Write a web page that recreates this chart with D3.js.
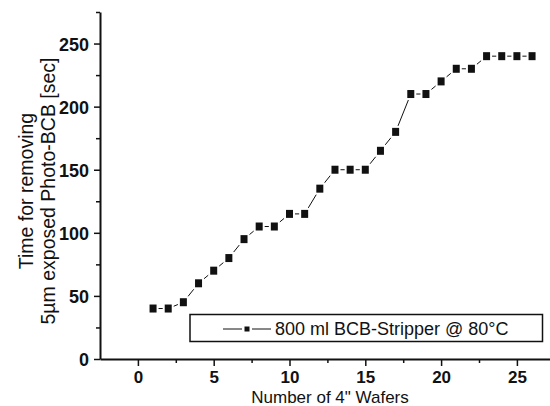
<!DOCTYPE html>
<html><head><meta charset="utf-8">
<script src="https://cdn.jsdelivr.net/npm/d3@7"></script>
<style>
body{margin:0;background:#fff;}
svg{display:block;font-family:"Liberation Sans",Arial,sans-serif;}
</style></head>
<body><svg id="c" width="550" height="406"></svg>
<script>
const wafers = [1,2,3,4,5,6,7,8,9,10,11,12,13,14,15,16,17,18,19,20,21,22,23,24,25,26];
const times  = [40,40,45,60,70,80,95,105,105,115,115,135,150,150,150,165,180,210,210,220,230,230,240,240,240,240];
const xTicks = [0,5,10,15,20,25];
const xMinor = [2.5,7.5,12.5,17.5,22.5];
const yTicks = [0,50,100,150,200,250];
const yMinor = [25,75,125,175,225,275];
const seriesName = "800 ml BCB-Stripper @ 80°C";
const yLabel = ["Time for removing","5µm exposed Photo-BCB [sec]"];
const xLabel = "Number of 4\" Wafers";

const svg = d3.select("#c");
const x = d3.scaleLinear().domain([-2.5,27.5]).range([100,554.8]);
const y = d3.scaleLinear().domain([0,275]).range([359,12]);
const ink = "#111";

// minor ticks
svg.append("g").attr("transform","translate(0,359)")
  .call(d3.axisBottom(x).tickValues(xMinor).tickSize(4).tickFormat(""))
  .call(g=>g.select(".domain").remove());
svg.append("g").attr("transform","translate(100,0)")
  .call(d3.axisLeft(y).tickValues(yMinor).tickSize(4).tickFormat(""))
  .call(g=>g.select(".domain").remove());
// major axes
const gx = svg.append("g").attr("transform","translate(0,359)")
  .call(d3.axisBottom(x).tickValues(xTicks).tickSize(7).tickSizeOuter(0));
const gy = svg.append("g").attr("transform","translate(100,0)")
  .call(d3.axisLeft(y).tickValues(yTicks).tickSize(6).tickSizeOuter(0).tickPadding(5));
svg.selectAll(".tick line").attr("stroke",ink).attr("stroke-width",1.5);
svg.selectAll(".domain").attr("stroke",ink).attr("stroke-width",2);
[gx,gy].forEach(g=>g.selectAll("text").attr("font-family","'Liberation Sans',Arial,sans-serif")
  .attr("font-size",18).attr("font-weight","bold").attr("fill",ink));
gy.selectAll("text").attr("dy","0.36em");
gx.selectAll("text").attr("font-size",17).attr("y",23.5).attr("dy",null);

// data line
svg.append("path").datum(wafers.map((w,i)=>[w,times[i]]))
  .attr("fill","none").attr("stroke",ink).attr("stroke-width",1)
  .attr("d",d3.line().x(d=>x(d[0])).y(d=>y(d[1])));
const pts = svg.append("g").selectAll("g").data(wafers.map((w,i)=>[w,times[i]])).join("g")
  .attr("transform",d=>`translate(${x(d[0])},${y(d[1])})`);
pts.append("rect").attr("x",-5.5).attr("y",-6).attr("width",11).attr("height",12).attr("fill","#fff");
pts.append("rect").attr("x",-3.5).attr("y",-4).attr("width",7).attr("height",8).attr("fill",ink);

// legend
const lg = svg.append("g");
lg.append("rect").attr("x",190).attr("y",314.5).attr("width",352.5).attr("height",27)
  .attr("fill","#fff").attr("stroke",ink).attr("stroke-width",1.5);
lg.append("line").attr("x1",223).attr("x2",271).attr("y1",329).attr("y2",329).attr("stroke",ink).attr("stroke-width",1);
lg.append("rect").attr("x",242).attr("y",324.5).attr("width",10).attr("height",9).attr("fill","#fff");
lg.append("rect").attr("x",244.5).attr("y",326.5).attr("width",5).attr("height",5).attr("fill",ink);
lg.append("text").attr("x",275).attr("y",334.5).attr("font-size",18).attr("fill",ink).text(seriesName);

// axis titles
svg.append("text").attr("x",330).attr("y",402.5).attr("text-anchor","middle")
  .attr("font-size",17).attr("fill",ink).text(xLabel);
svg.append("g").attr("transform","translate(33,191) rotate(-90)")
  .selectAll("text").data(yLabel).join("text")
  .attr("x",0).attr("y",(d,i)=>i*22).attr("text-anchor","middle")
  .attr("font-size",19.5).attr("fill",ink).text(d=>d);
</script></body></html>
